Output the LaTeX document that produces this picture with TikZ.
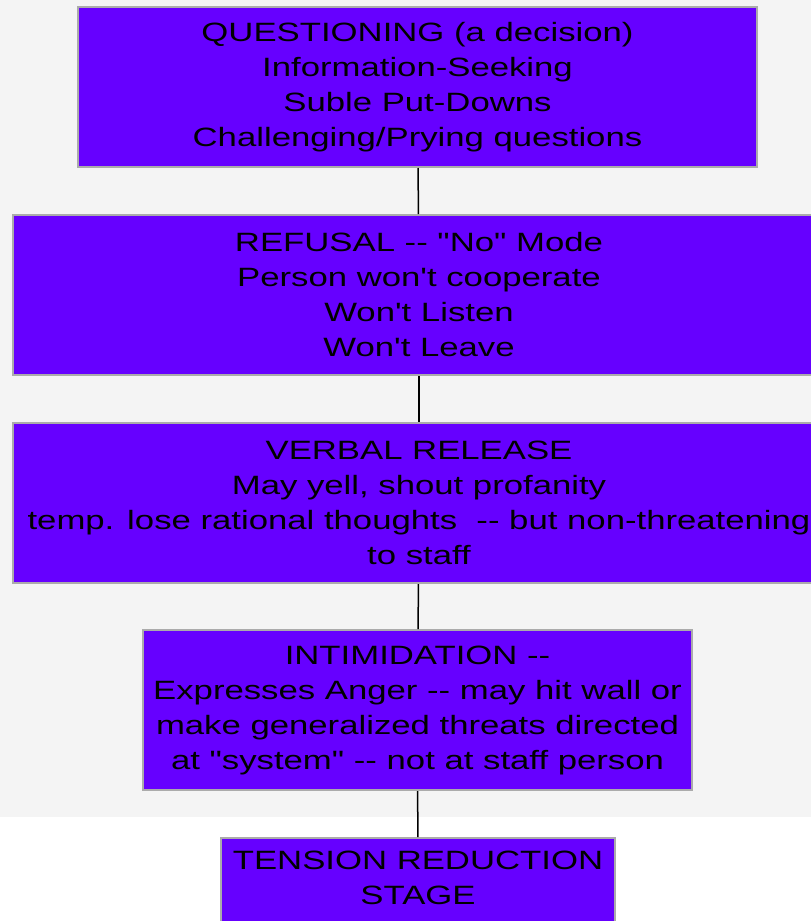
\documentclass[tikz,border=0pt]{standalone}
\usepackage{fontspec}
\setmainfont{Liberation Sans}[Ligatures=TeXOff, FakeStretch=1.31]
\definecolor{stagefill}{HTML}{6600FF}
\definecolor{stageline}{HTML}{ABABAB}
\definecolor{backgray}{HTML}{F4F4F4}
\begin{document}
\begin{tikzpicture}[x=1pt,y=1pt,
  stage/.style={draw=stageline, line width=2pt, fill=stagefill, align=center, inner sep=0pt,
    minimum height=160pt, font=\fontsize{26.5}{35}\selectfont}]
\useasboundingbox (0,0) rectangle (811,-921);
\clip (0,0) rectangle (811,-921);
\fill[backgray] (0,0) rectangle (811,-817);
\node[stage, minimum width=679pt] (questioning) at (417.5,-87) {QUESTIONING (a decision)\\Information-Seeking\\Suble Put-Downs\\Challenging/Prying questions};
\node[stage, minimum width=812pt] (refusal) at (419,-295) {REFUSAL -- "No" Mode\\Person won't cooperate\\Won't Listen\\Won't Leave};
\node[stage, minimum width=812pt] (verbal) at (419,-503) {VERBAL RELEASE\\May yell, shout profanity\\temp. lose rational thoughts\ \ -- but non-threatening\\to staff};
\node[stage, minimum width=549pt] (intimidation) at (417.5,-710) {INTIMIDATION --\\Expresses Anger -- may hit wall or\\make generalized threats directed\\at "system" -- not at staff person};
\node[stage, minimum width=394pt] (tension) at (418,-918) {TENSION REDUCTION\\STAGE\\\strut\\\strut};
\draw[line width=1.5pt] (questioning) -- (refusal);
\draw[line width=1.5pt] (refusal) -- (verbal);
\draw[line width=1.5pt] (verbal) -- (intimidation);
\draw[line width=1.5pt] (intimidation) -- (tension);
\end{tikzpicture}
\end{document}
